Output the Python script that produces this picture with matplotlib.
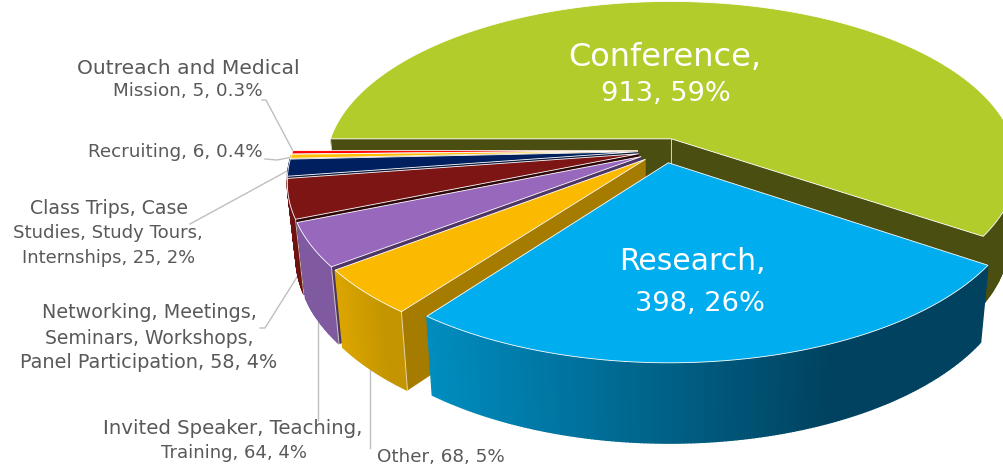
import numpy as np
import matplotlib
matplotlib.use('Agg')
import matplotlib.pyplot as plt
from matplotlib.colors import to_rgb

# slices go clockwise starting from the 9 o'clock position
categories = ['Conference', 'Research', 'Other', 'Invited Speaker, Teaching, Training',
              'Networking, Meetings, Seminars, Workshops, Panel Participation',
              'Class Trips, Case Studies, Study Tours, Internships',
              'Recruiting', 'Outreach and Medical Mission']
values = [913, 398, 68, 64, 58, 25, 6, 5]
percents = ['59%', '26%', '5%', '4%', '4%', '2%', '0.4%', '0.3%']

top_colors = ['#B2CD2B', '#00AEEF', '#FBBA00', '#9868BC', '#7E1515', '#001F5F', '#FFC000', '#FF0000']
edge_colors = ['#4A4E11', '#00425F', '#A67C00', '#4D3566', '#2E0808', '#0B1A3D', '#A67C00', '#A00000']
wall_left = ['#4A4E11', '#008DC0', '#DCA600', '#7F5AA0', '#6E1212', '#001A50', '#C49500', '#C00000']
wall_right = ['#4A4E11', '#00425F', '#C49500', '#7F5AA0', '#6E1212', '#001A50', '#C49500', '#C00000']

CX, CY = 664, 150.5
RADIUS = 345
EXPLODE = 26
SQUASH = 0.473
PERSP = 0.00047
HEIGHT = 73
TEXT_COLOR = '#595959'
LINE_COLOR = '#BFBFBF'

plt.rcParams['font.family'] = ['DejaVu Sans']


def project(x, y, z=0.0):
    w = 1 / (1 - PERSP * y)
    sx = CX + x * w * (1 - 0.023 * z)
    sy = CY + SQUASH * y * w + HEIGHT * z * np.sqrt(w)
    return sx, sy


def slice_point(theta, bisector, r=RADIUS, z=0.0):
    x = EXPLODE * np.sin(bisector) + r * np.sin(theta)
    y = -EXPLODE * np.cos(bisector) - r * np.cos(theta)
    return project(x, y, z)


def blend(c1, c2, t):
    a, b = np.array(to_rgb(c1)), np.array(to_rgb(c2))
    return tuple(a + (b - a) * t)


def draw_slice(ax, start, end, i, zo):
    mid = (start + end) / 2
    n = max(int(np.degrees(end - start)), 2) * 2
    thetas = np.linspace(start, end, n + 1)
    tx, ty = slice_point(thetas, mid)
    bx, by = slice_point(thetas, mid, z=1.0)
    x0, x1 = bx.min(), bx.max()

    # outer wall, split up so the shading can run across it
    # the part at the back stays hidden, so skip it
    for k in range(n):
        if np.cos(thetas[k]) > -0.03 and np.cos(thetas[k + 1]) > -0.03:
            continue
        t = ((bx[k] + bx[k + 1]) / 2 - x0) / max(x1 - x0, 1)
        c = blend(wall_left[i], wall_right[i], min(t / 0.725, 1))
        ax.fill([tx[k], tx[k + 1], bx[k + 1], bx[k]], [ty[k], ty[k + 1], by[k + 1], by[k]],
                color=c, lw=1.0, zorder=zo)

    # cut faces
    ax_, ay_ = slice_point(start, mid, r=0)
    abx, aby = slice_point(start, mid, r=0, z=1.0)
    if i != 1:
        ax.fill([ax_, tx[0], bx[0], abx], [ay_, ty[0], by[0], aby], color=edge_colors[i], lw=0.3, zorder=zo + 1)
        ax.plot([tx[0], bx[0]], [ty[0], by[0]], color='#F2EBD0', lw=0.7, alpha=0.8, zorder=zo + 1)
    if i == 0:
        ax.fill([ax_, tx[-1], bx[-1], abx], [ay_, ty[-1], by[-1], aby], color=edge_colors[i], lw=0.3, zorder=zo + 1)
        ax.plot([ax_, abx], [ay_, aby], color='#D8D8C8', lw=0.7, zorder=zo + 1)

    # top face
    ax.fill(np.r_[ax_, tx], np.r_[ay_, ty], facecolor=top_colors[i], edgecolor='white', lw=0.6, zorder=zo + 2)


def main():
    fig = plt.figure(figsize=(10.04, 4.66), dpi=100)
    ax = fig.add_axes([0, 0, 1, 1])
    ax.set_xlim(0, 1004)
    ax.set_ylim(466, 0)
    ax.axis('off')

    sweeps = np.array(values) / sum(values) * 2 * np.pi
    ends = -np.pi / 2 + np.cumsum(sweeps)
    starts = ends - sweeps

    # leader lines go under the pie
    leaders = [([262, 266, 293], [100, 100, 151]),
               ([265, 277, 293], [159, 160, 157]),
               ([190, 289], [224, 170]),
               ([260, 265, 297], [328, 328, 277]),
               ([318.5, 318.5], [322, 420]),
               ([370.5, 370.5], [370, 448])]
    for lx, ly in leaders:
        ax.plot(lx, ly, color=LINE_COLOR, lw=1, zorder=0.5)

    # back to front: conference, small slices from the top down, research last
    zo = 1
    for i in [0, 7, 6, 5, 4, 3, 2, 1]:
        draw_slice(ax, starts[i], ends[i], i, zo)
        zo += 3

    kw = dict(color=TEXT_COLOR, va='center', zorder=50)
    ax.text(188, 68, 'Outreach and Medical', ha='center', fontsize=14.6, **kw)
    ax.text(188, 91, f'Mission, {values[7]}, {percents[7]}', ha='center', fontsize=13.2, **kw)
    ax.text(263, 152, f'Recruiting, {values[6]}, {percents[6]}', ha='right', fontsize=13.2, **kw)
    ax.text(109, 208, 'Class Trips, Case', ha='center', fontsize=13.6, **kw)
    ax.text(108, 233, 'Studies, Study Tours,', ha='center', fontsize=13.1, **kw)
    ax.text(109, 258, f'Internships, {values[5]}, {percents[5]}', ha='center', fontsize=12.9, **kw)
    ax.text(149, 313, 'Networking, Meetings,', ha='center', fontsize=13.8, **kw)
    ax.text(149, 338, 'Seminars, Workshops,', ha='center', fontsize=13.5, **kw)
    ax.text(149, 363, f'Panel Participation, {values[4]}, {percents[4]}', ha='center', fontsize=13.9, **kw)
    ax.text(233, 428, 'Invited Speaker, Teaching,', ha='center', fontsize=14.2, **kw)
    ax.text(234, 453, f'Training, {values[3]}, {percents[3]}', ha='center', fontsize=13, **kw)
    ax.text(441, 457, f'{categories[2]}, {values[2]}, {percents[2]}', ha='center', fontsize=13.2, **kw)

    big = dict(color='white', ha='center', va='center', zorder=50)
    ax.text(665, 57, f'{categories[0]},', fontsize=23, **big)
    ax.text(666, 94, f'{values[0]}, {percents[0]}', fontsize=19.6, **big)
    ax.text(692, 262, f'{categories[1]},', fontsize=21.5, **big)
    ax.text(700, 304, f'{values[1]}, {percents[1]}', fontsize=19.6, **big)

    fig.savefig('out.png', dpi=100)


if __name__ == "__main__":
    main()
